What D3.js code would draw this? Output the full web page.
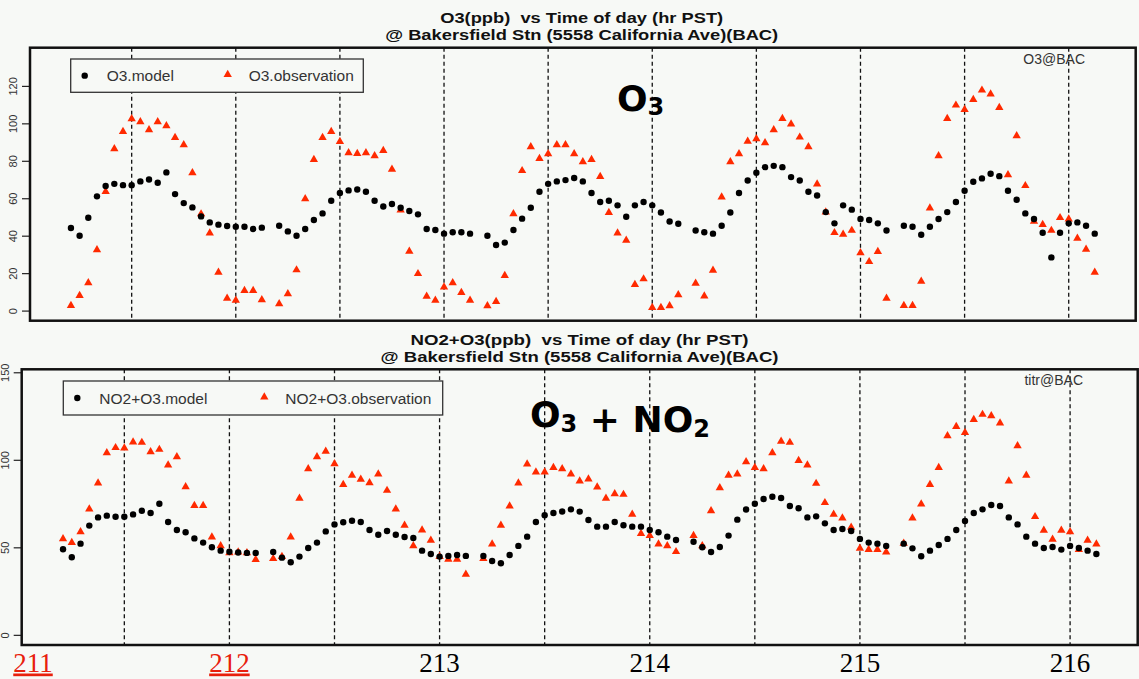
<!DOCTYPE html>
<html>
<head>
<meta charset="utf-8">
<script src="https://cdn.jsdelivr.net/npm/d3@7"></script>
<style>
  html, body { margin: 0; padding: 0; background: #f7f9f6; }
  svg { display: block; }
</style>
</head>
<body>
<div id="chart"></div>
<script>
// hourly values, first point is day 211 hour 5 PST; hour 4 of each day is missing
var startDay = 211, startHour = 5;

var o3Model = [
  44.1, 40.0, 49.6, 61.0, 66.5, 67.7, 67.0, 67.0, 69.0, 70.0, 68.3, 73.8, 62.2, 57.4, 55.1, 50.3, 47.1, 45.9, 45.2,
  44.8, 44.8, 43.6, 44.3, null, 45.3, 42.3, 40.0, 43.6, 48.4, 51.9, 58.7, 62.8, 64.2, 64.7, 63.5, 58.7, 55.6, 56.9, 54.9, 53.2, 51.4, 43.6, 43.0,
  41.1, 41.8, 41.8, 41.1, null, 40.0, 35.0, 36.3, 43.0, 49.1, 54.9, 63.5, 67.7, 69.0, 69.7, 70.8, 69.0, 62.8, 58.0, 58.7, 56.2, 50.1, 56.2, 58.0,
  56.2, 52.4, 47.6, 46.4, null, 42.8, 41.8, 41.1, 45.3, 52.4, 62.8, 69.5, 73.6, 76.6, 77.3, 76.6, 71.3, 69.5, 63.5, 61.5, 52.6, 46.6, 56.2, 53.9,
  48.9, 48.4, 46.6, 42.8, null, 45.3, 44.8, 40.5, 44.8, 48.9, 52.6, 58.0, 64.0, 68.8, 70.6, 73.1, 71.8, 64.0, 59.2, 51.9, 48.9, 41.6, 28.4, 41.6,
  46.6, 47.1, 45.3, 41.1
];
var o3Obs = [
  2.7, 8.0, 14.8, 32.5, 63.6, 86.4, 95.6, 102.4, 100.8, 96.5, 100.8, 98.7, 92.4, 88.5, 73.6, 51.6, 41.4, 20.4, 6.6,
  5.5, 10.7, 10.7, 5.7, null, 3.6, 8.9, 21.7, 59.7, 80.7, 92.4, 95.6, 90.3, 84.3, 83.9, 84.3, 82.7, 85.5, 75.4, 53.7, 31.6, 19.7, 7.6, 5.5,
  12.6, 14.8, 9.6, 5.5, null, 2.5, 4.8, 18.7, 51.7, 74.7, 87.5, 81.2, 83.7, 88.5, 88.5, 83.7, 79.5, 80.7, 71.6, 52.3, 41.4, 37.5, 13.9, 16.9,
  1.6, 1.6, 2.5, 8.4, null, 14.6, 7.8, 21.5, 60.6, 79.5, 83.7, 90.4, 91.7, 89.6, 96.5, 102.6, 99.6, 92.6, 87.5, 67.6, 52.6, 41.6, 40.7, 42.8,
  30.8, 26.1, 31.5, 6.6, null, 2.7, 2.7, 15.6, 54.8, 82.7, 102.6, 109.7, 107.4, 112.7, 117.7, 115.6, 108.4, 72.5, 93.3, 66.7, 47.6, 45.9, 42.8, 49.6,
  48.9, 38.6, 32.7, 20.4
];
var oxModel = [
  48.9, 44.3, 52.1, 62.4, 67.1, 68.1, 67.5, 67.5, 68.8, 70.9, 69.6, 74.9, 64.5, 59.9, 58.6, 55.1, 52.7, 50.0, 48.1,
  47.5, 47.0, 46.8, 46.8, null, 47.3, 44.1, 41.5, 44.7, 49.6, 52.7, 59.1, 63.1, 64.3, 65.2, 64.5, 59.9, 57.2, 59.3, 57.2, 55.9, 55.3, 48.1, 46.2,
  44.7, 45.1, 45.6, 45.1, null, 45.1, 42.2, 40.9, 45.6, 50.8, 56.1, 64.5, 68.3, 69.6, 70.5, 71.7, 70.4, 65.6, 61.8, 61.8, 64.5, 62.6, 61.8, 61.8,
  59.9, 58.6, 56.1, 54.2, null, 53.2, 50.0, 47.3, 50.2, 56.7, 65.8, 71.6, 74.9, 77.6, 78.9, 78.2, 73.6, 72.3, 67.1, 67.7, 63.7, 59.9, 60.5, 59.3,
  54.8, 52.7, 52.1, 50.8, null, 52.1, 49.4, 44.9, 48.1, 51.3, 54.8, 59.9, 65.0, 69.6, 71.7, 74.2, 73.6, 67.1, 63.1, 56.1, 52.1, 49.6, 50.2, 48.7,
  50.8, 49.6, 48.1, 46.2
];
var oxObs = [
  54.8, 52.7, 58.9, 71.9, 86.7, 104.0, 106.9, 106.7, 110.1, 109.9, 104.6, 105.9, 97.0, 101.7, 84.6, 73.8, 73.8, 55.9, 50.8,
  46.8, 47.3, 46.8, 43.0, null, 43.5, 44.7, 55.9, 78.0, 94.9, 101.7, 104.8, 97.7, 85.9, 91.1, 88.8, 86.9, 91.8, 82.5, 71.9, 62.6, 50.8, 59.9, 54.0,
  44.7, 43.2, 43.2, 34.6, null, 43.5, 51.9, 62.6, 73.6, 86.7, 97.5, 93.0, 93.0, 95.6, 94.9, 91.8, 87.8, 89.0, 84.4, 78.0, 80.6, 80.2, 68.8, 57.8,
  56.7, 51.9, 50.8, 47.5, null, 56.7, 50.8, 70.9, 84.0, 91.1, 91.8, 98.9, 95.5, 94.9, 104.0, 110.5, 109.9, 99.6, 97.0, 86.5, 75.5, 68.8, 66.7, 61.4,
  49.4, 48.7, 48.7, 47.3, null, 52.3, 66.7, 74.7, 85.8, 95.5, 113.7, 119.0, 115.6, 123.0, 125.9, 125.1, 121.0, 87.8, 108.0, 91.1, 67.5, 59.7, 54.6, 59.7,
  58.8, 48.7, 54.0, 51.9
];

var noonMidnight = [211.5, 212, 212.5, 213, 213.5, 214, 214.5, 215, 215.5, 216];
var o3Ticks = [0, 20, 40, 60, 80, 100, 120];
var oxTicks = [0, 50, 100, 150];
var dayLabels = [211, 212, 213, 214, 215, 216];
var linkedDays = [211, 212];

var W = 1139, H = 679;
var red = "#ff2a00";

var svg = d3.select("#chart").append("svg")
    .attr("width", W)
    .attr("height", H)
    .style("background", "#f7f9f6");

function toPoints(values) {
    var pts = [];
    values.forEach(function(v, i) {
        if (v !== null) pts.push({t: startDay + (startHour + i) / 24, v: v});
    });
    return pts;
}

function panel(p) {
    var x = d3.scaleLinear().domain([211.0117, 216.3217]).range([p.left, p.right]);
    var y = d3.scaleLinear().domain(p.yDomain).range([p.bottom, p.top]);
    var g = svg.append("g");

    g.append("rect")
        .attr("x", p.left).attr("y", p.top)
        .attr("width", p.right - p.left).attr("height", p.bottom - p.top)
        .style("fill", "#f7f9f6");

    // titles
    p.titles.forEach(function(t, i) {
        g.append("text")
            .attr("x", p.titleX).attr("y", p.titleY[i])
            .attr("text-anchor", "middle")
            .attr("textLength", p.titleW[i])
            .attr("lengthAdjust", "spacingAndGlyphs")
            .style("white-space", "pre")
            .style("font-family", "'Liberation Sans', Arial, sans-serif")
            .style("font-weight", "bold")
            .style("font-size", "15px")
            .style("fill", "#111")
            .text(t);
    });

    // dashed noon / midnight lines
    g.selectAll(".vline").data(noonMidnight).enter().append("line")
        .attr("x1", function(d) { return x(d); }).attr("x2", function(d) { return x(d); })
        .attr("y1", p.top).attr("y2", p.bottom)
        .style("stroke", "#111")
        .style("stroke-width", 1.3)
        .style("stroke-dasharray", "4,3");

    // y axis
    var yAxis = d3.axisLeft(y).tickValues(p.ticks).tickSize(8).tickPadding(3);
    var ax = g.append("g").attr("transform", "translate(" + p.left + ",0)").call(yAxis);
    ax.select(".domain").remove();
    ax.selectAll(".tick line").style("stroke", "#222").style("stroke-width", 1.2);
    ax.selectAll(".tick text")
        .attr("x", null).attr("dy", null)
        .attr("transform", "translate(" + (p.labelX - p.left) + ",0) rotate(-90)")
        .attr("text-anchor", "middle")
        .style("font-family", "'Liberation Sans', Arial, sans-serif")
        .style("font-size", "11px")
        .style("fill", "#333");

    // points
    var model = toPoints(p.model), obs = toPoints(p.obs);
    g.selectAll(".obs").data(obs).enter().append("path")
        .attr("d", d3.symbol().type(d3.symbolTriangle).size(30))
        .attr("transform", function(d) { return "translate(" + x(d.t) + "," + y(d.v) + ")"; })
        .style("fill", red);
    g.selectAll(".mod").data(model).enter().append("circle")
        .attr("cx", function(d) { return x(d.t); })
        .attr("cy", function(d) { return y(d.v); })
        .attr("r", 3.2)
        .style("fill", "#000");

    // frame
    g.append("rect")
        .attr("x", p.left).attr("y", p.top)
        .attr("width", p.right - p.left).attr("height", p.bottom - p.top)
        .style("fill", "none").style("stroke", "#111").style("stroke-width", 2.5);

    // legend
    var L = p.legend;
    g.append("rect")
        .attr("x", L.x).attr("y", L.y).attr("width", L.w).attr("height", L.h)
        .style("fill", "#f7f9f6").style("stroke", "#333").style("stroke-width", 1.3);
    g.append("circle").attr("cx", L.x + 14).attr("cy", L.y + L.h / 2).attr("r", 3.2).style("fill", "#000");
    g.append("path")
        .attr("d", d3.symbol().type(d3.symbolTriangle).size(30))
        .attr("transform", "translate(" + (L.x + L.tri) + "," + (L.y + L.h / 2 - 1) + ")")
        .style("fill", red);
    [[36, L.names[0]], [L.tri + 21, L.names[1]]].forEach(function(it) {
        g.append("text")
            .attr("x", L.x + it[0]).attr("y", L.y + L.h / 2 + 5.5)
            .style("font-family", "'Liberation Sans', Arial, sans-serif")
            .style("font-size", "15.5px")
            .style("fill", "#333")
            .text(it[1]);
    });

    // station tag
    g.append("text")
        .attr("x", p.tagX).attr("y", p.top + 16)
        .attr("text-anchor", "end")
        .style("font-family", "'Liberation Sans', Arial, sans-serif")
        .style("font-size", "14px")
        .style("fill", "#333")
        .text(p.tag);

    // big species label
    var big = g.append("text")
        .attr("x", p.big.x).attr("y", p.big.y)
        .style("font-family", "'DejaVu Sans', sans-serif")
        .style("font-weight", "bold")
        .style("font-size", "36px")
        .style("fill", "#000");
    p.big.parts.forEach(function(part) {
        big.append("tspan")
            .attr("dy", part[1])
            .style("font-size", part[1] ? "24px" : null)
            .style("white-space", "pre")
            .text(part[0]);
        if (part[1]) big.append("tspan").attr("dy", -part[1]).text("");
    });

    return x;
}

panel({
    left: 30, right: 1135.7, top: 47.7, bottom: 320.7,
    yDomain: [-5.4, 140.4], ticks: o3Ticks, labelX: 16.5,
    model: o3Model, obs: o3Obs,
    titles: ["O3(ppb)  vs Time of day (hr PST)", "@ Bakersfield Stn (5558 California Ave)(BAC)"],
    titleX: 581.7, titleY: [23, 40], titleW: [283, 393],
    legend: {x: 70.7, y: 59, w: 292.6, h: 33.3, tri: 157, names: ["O3.model", "O3.observation"]},
    tag: "O3@BAC", tagX: 1085,
    big: {x: 617, y: 111, parts: [["O", 0], ["3", 4]]}
});

var xBot = panel({
    left: 21.7, right: 1137.7, top: 369.3, bottom: 645,
    yDomain: [-5.8, 151.7], ticks: oxTicks, labelX: 9,
    model: oxModel, obs: oxObs,
    titles: ["NO2+O3(ppb)  vs Time of day (hr PST)", "@ Bakersfield Stn (5558 California Ave)(BAC)"],
    titleX: 579.5, titleY: [345, 362], titleW: [338, 398],
    legend: {x: 63.3, y: 381, w: 379.4, h: 34, tri: 201, names: ["NO2+O3.model", "NO2+O3.observation"]},
    tag: "titr@BAC", tagX: 1083,
    big: {x: 530, y: 426.7, parts: [["O", 0], ["3", 5], [" + NO", 0], ["2", 5]]}
});

// day labels under the lower panel
svg.selectAll(".day").data(dayLabels).enter().append("text")
    .attr("x", function(d) { return Math.max(xBot(d), 33); })
    .attr("y", 671.5)
    .attr("text-anchor", "middle")
    .style("font-family", "'Liberation Serif', 'Times New Roman', serif")
    .style("font-size", "27px")
    .style("fill", function(d) { return linkedDays.indexOf(d) >= 0 ? "#e8200c" : "#000"; })
    .style("text-decoration", function(d) { return linkedDays.indexOf(d) >= 0 ? "underline" : null; })
    .text(function(d) { return d; });
</script>
</body>
</html>
